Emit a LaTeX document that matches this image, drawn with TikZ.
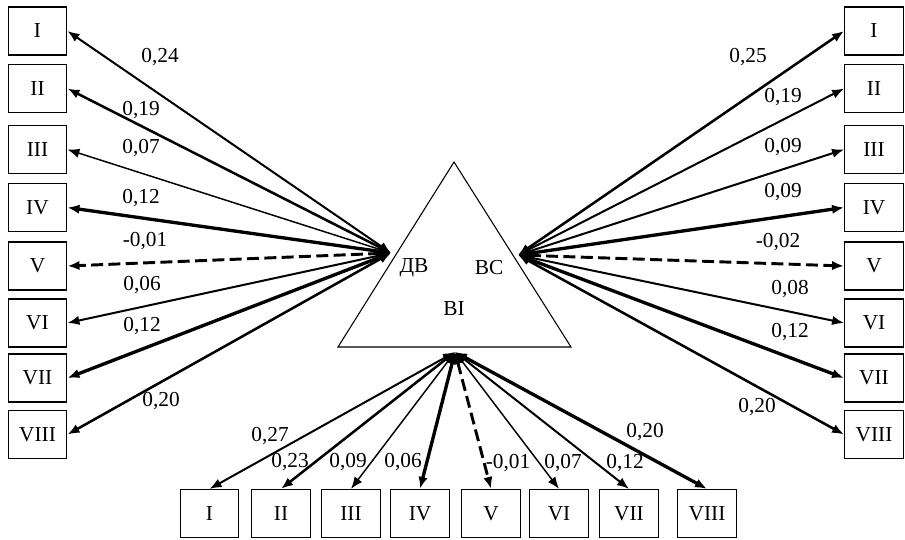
\documentclass[tikz,border=0pt]{standalone}
\usepackage{fontspec}
\setmainfont{Liberation Serif}
\usetikzlibrary{arrows.meta}
\tikzset{
  box/.style={draw,line width=0.9pt,minimum width=44pt,minimum height=36pt,inner sep=0pt,font=\fontsize{16}{18}\selectfont},
  lbl/.style={inner sep=0pt,font=\fontsize{16}{18}\selectfont},
  con/.style={{Latex[length=9pt,width=7pt]}-{Latex[length=9pt,width=7pt]}},
  wa/.style={con,line width=1.1pt},
  wb/.style={con,line width=1.5pt},
  wc/.style={con,line width=1.9pt},
  wd/.style={con,line width=2.5pt},
  dsh/.style={con,line width=2.2pt,dash pattern=on 9pt off 4pt},
}
\begin{document}
\begin{tikzpicture}[x=0.75pt,y=-0.75pt]
\useasboundingbox (0,0) rectangle (905,539);
% triangle
\coordinate (apex) at (454,162);
\coordinate (bl) at (338,347);
\coordinate (br) at (571,347);
\draw[line width=0.8pt] (apex) -- (bl) -- (br) -- cycle;
\node[lbl] (tdv) at (414,268) {ДВ};
\node[lbl] (tvs) at (489,268) {ВС};
\node[lbl] (tvi) at (454,309) {ВІ};
% hubs
\coordinate (dv) at (391,253);
\coordinate (vs) at (518,255);
\coordinate (vi) at (455,352);
% left boxes
\node[box] (L1) at (37.5,31) {I};
\node[box] (L2) at (37.5,88.5) {II};
\node[box] (L3) at (37.5,149.5) {III};
\node[box] (L4) at (37.5,207.5) {IV};
\node[box] (L5) at (37.5,266) {V};
\node[box] (L6) at (37.5,323) {VI};
\node[box] (L7) at (37.5,378) {VII};
\node[box] (L8) at (37.5,434.5) {VIII};
% right boxes
\node[box] (R1) at (874,31) {I};
\node[box] (R2) at (874,88.5) {II};
\node[box] (R3) at (874,149.5) {III};
\node[box] (R4) at (874,207.5) {IV};
\node[box] (R5) at (874,266) {V};
\node[box] (R6) at (874,323) {VI};
\node[box] (R7) at (874,378) {VII};
\node[box] (R8) at (874,434.5) {VIII};
% bottom boxes
\node[box] (B1) at (209.5,513.5) {I};
\node[box] (B2) at (281,513.5) {II};
\node[box] (B3) at (351,513.5) {III};
\node[box] (B4) at (420,513.5) {IV};
\node[box] (B5) at (491,513.5) {V};
\node[box] (B6) at (559,513.5) {VI};
\node[box] (B7) at (629,513.5) {VII};
\node[box] (B8) at (707,513.5) {VIII};
% left connectors
\draw[wb] (dv) -- (L1.east);
\draw[wc] (dv) -- (L2.east);
\draw[wa] (dv) -- (L3.east);
\draw[wd] (dv) -- (L4.east);
\draw[dsh] (dv) -- (L5.east);
\draw[wb] (dv) -- (L6.east);
\draw[wd] (dv) -- (L7.east);
\draw[wc] (dv) -- (L8.east);
% right connectors
\draw[wc] (vs) -- (R1.west);
\draw[wb] (vs) -- (R2.west);
\draw[wb] (vs) -- (R3.west);
\draw[wd] (vs) -- (R4.west);
\draw[dsh] (vs) -- (R5.west);
\draw[wb] (vs) -- (R6.west);
\draw[wd] (vs) -- (R7.west);
\draw[wc] (vs) -- (R8.west);
% bottom connectors
\draw[wb] (vi) -- (B1.north);
\draw[wc] (vi) -- (B2.north);
\draw[wa] (vi) -- (B3.north);
\draw[wd] (vi) -- (B4.north);
\draw[dsh] (vi) -- (B5.north);
\draw[wa] (vi) -- (B6.north);
\draw[wb] (vi) -- (B7.north);
\draw[wd] (vi) -- (B8.north);
% left labels
\node[lbl] (l1) at (160,57) {0,24};
\node[lbl] (l2) at (141,110) {0,19};
\node[lbl] (l3) at (141,148) {0,07};
\node[lbl] (l4) at (141,198) {0,12};
\node[lbl] (l5) at (145,241) {-0,01};
\node[lbl] (l6) at (142,285) {0,06};
\node[lbl] (l7) at (142,326) {0,12};
\node[lbl] (l8) at (161,401) {0,20};
% right labels
\node[lbl] (r1) at (748,57) {0,25};
\node[lbl] (r2) at (783,97) {0,19};
\node[lbl] (r3) at (783,147) {0,09};
\node[lbl] (r4) at (783,192) {0,09};
\node[lbl] (r5) at (778,242) {-0,02};
\node[lbl] (r6) at (790,289) {0,08};
\node[lbl] (r7) at (790,332) {0,12};
\node[lbl] (r8) at (757,407) {0,20};
% bottom labels
\node[lbl] (b1) at (270,436) {0,27};
\node[lbl] (b2) at (290,462) {0,23};
\node[lbl] (b3) at (348,462) {0,09};
\node[lbl] (b4) at (403,462) {0,06};
\node[lbl] (b5) at (508,463) {-0,01};
\node[lbl] (b6) at (563,463) {0,07};
\node[lbl] (b7) at (625,463) {0,12};
\node[lbl] (b8) at (645,432) {0,20};
\end{tikzpicture}
\end{document}
